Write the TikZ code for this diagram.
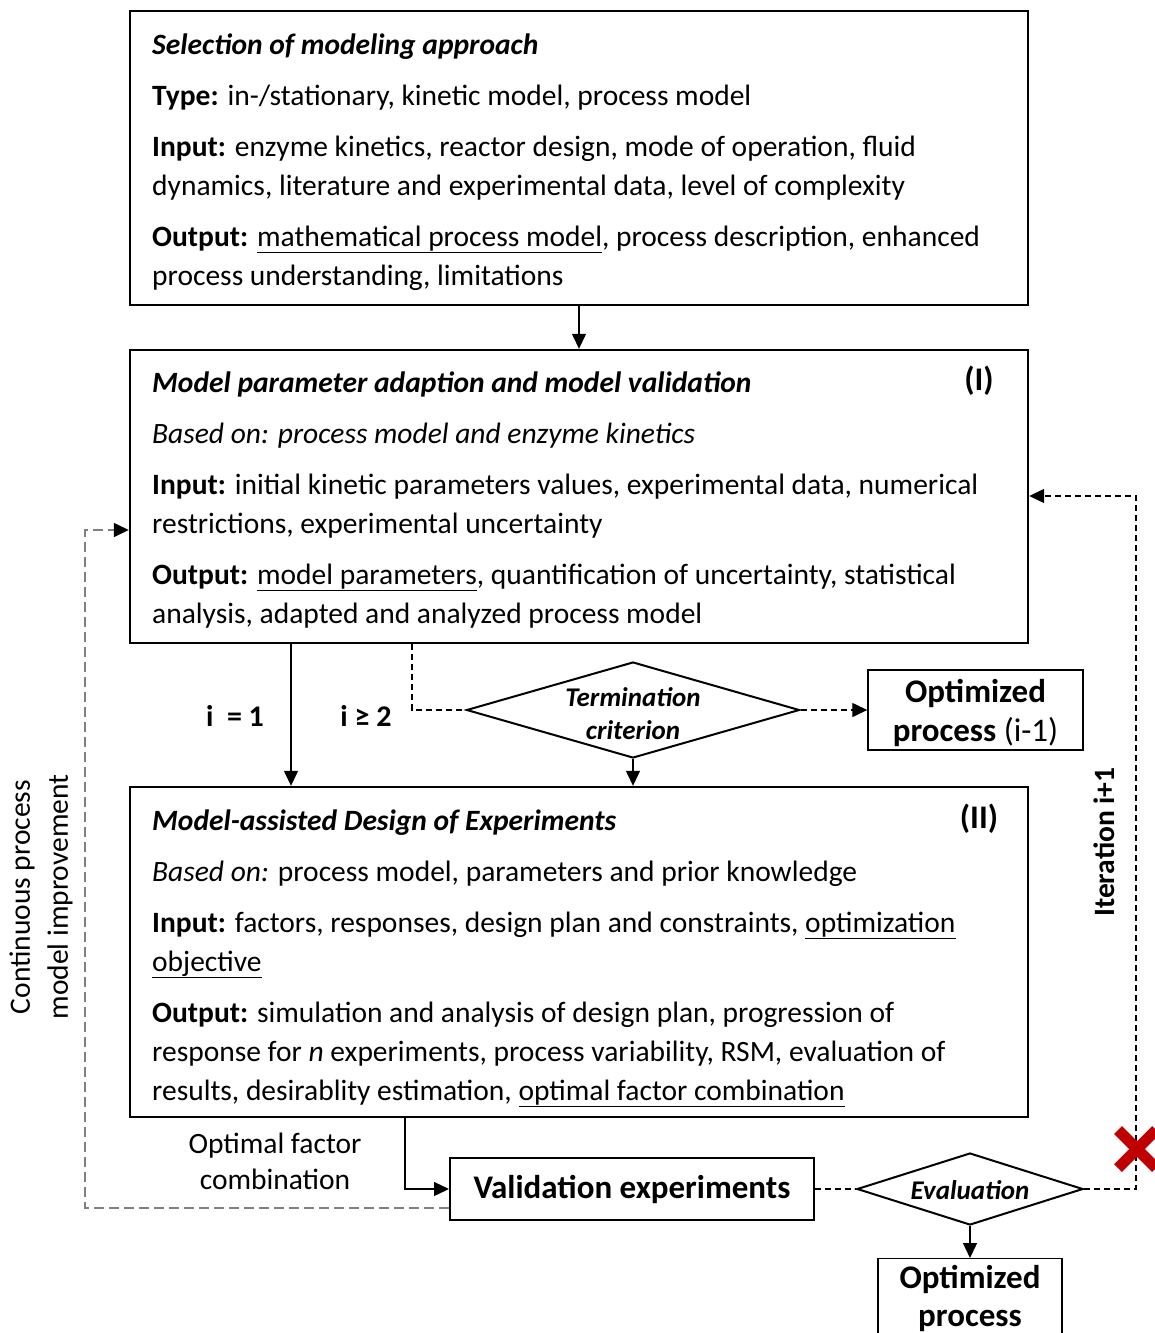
\documentclass[tikz,border=0pt]{standalone}
\usepackage{fontspec}
\setmainfont{Carlito}
\usetikzlibrary{arrows.meta,shapes.geometric,calc}

\tikzset{
  box/.style={draw, line width=2.4pt, rectangle, inner sep=0pt},
  thinbox/.style={draw, line width=1.4pt, rectangle, inner sep=0pt, align=center},
  decision/.style={draw, line width=2pt, diamond, inner sep=0pt},
  % multi-line body text is anchored at the baseline of its last line
  body/.style={anchor=base west, align=left, inner sep=0pt,
    font=\fontsize{29.5}{39}\selectfont},
  arr/.style={line width=1.3pt, -{Triangle[length=15pt,width=14pt]}},
  dline/.style={line width=1.3pt, dash pattern=on 6pt off 4pt},
  darr/.style={dline, -{Triangle[length=15pt,width=14pt]}},
  gline/.style={line width=1.5pt, draw=gray, dash pattern=on 10pt off 5pt},
  garr/.style={gline, -{Triangle[length=15pt,width=14pt,color=black]}},
  lbl/.style={inner sep=0pt, font=\fontsize{30}{36}\selectfont\bfseries},
  roman/.style={inner sep=0pt, font=\fontsize{33}{40}\selectfont\bfseries},
}

\begin{document}
\begin{tikzpicture}[x=1pt,y=-1pt]
\useasboundingbox (0,0) rectangle (1155,1333);
\clip (0,0) rectangle (1155,1333);

% main boxes
\node[box, minimum width=898pt, minimum height=294pt] (sel) at (579,158) {};
\node[box, minimum width=898pt, minimum height=293pt] (adapt) at (579,496.5) {};
\node[box, minimum width=898pt, minimum height=330pt] (doe) at (579,952) {};

% box texts
\node[body] (seltext) at (152,285) {\textbf{\textit{Selection of modeling approach}}\\[12pt]
\textbf{Type:} in-/stationary, kinetic model, process model\\[12pt]
\textbf{Input:} enzyme kinetics, reactor design, mode of operation, fluid\\
dynamics, literature and experimental data, level of complexity\\[12pt]
\textbf{Output:} \underline{mathematical process model}, process description, enhanced\\
process understanding, limitations};

\node[body] (adapttext) at (152,623) {\textbf{\textit{Model parameter adaption and model validation}}\\[12pt]
\textit{Based on: process model and enzyme kinetics}\\[12pt]
\textbf{Input:} initial kinetic parameters values, experimental data, numerical\\
restrictions, experimental uncertainty\\[12pt]
\textbf{Output:} \underline{model parameters}, quantification of uncertainty, statistical\\
analysis, adapted and analyzed process model};
\node[roman] (one) at (979,381) {(I)};

\node[body] (doetext) at (152,1100) {\textbf{\textit{Model-assisted Design of Experiments}}\\[12pt]
\textit{Based on:} process model, parameters and prior knowledge\\[12pt]
\textbf{Input:} factors, responses, design plan and constraints, \underline{optimization}\\
\underline{objective}\\[12pt]
\textbf{Output:} simulation and analysis of design plan, progression of\\
response for \textit{n} experiments, process variability, RSM, evaluation of\\
results, desirablity estimation, \underline{optimal factor combination}};
\node[roman] (two) at (979,819) {(II)};

% decisions and results
\node[decision, minimum width=333pt, minimum height=96pt] (term) at (633,710) {};
\node[inner sep=0pt, align=center, font=\fontsize{27}{33}\selectfont\bfseries\itshape] (termtext) at (633,714) {Termination\\criterion};
\node[thinbox, minimum width=215pt, minimum height=80pt] (opt1) at (975.5,710) {};
\node[inner sep=0pt, align=center, font=\fontsize{33}{39}\selectfont] (opt1text) at (975.5,713) {\textbf{Optimized}\\\textbf{process} (i-1)};

\node[box, line width=2pt, minimum width=364pt, minimum height=62pt,
  font=\fontsize{33}{40}\selectfont\bfseries] (val) at (632,1189) {Validation experiments};
\node[decision, minimum width=226pt, minimum height=72pt] (eval) at (970,1189) {};
\node[inner sep=0pt, font=\fontsize{27}{32}\selectfont\bfseries\itshape] (evaltext) at (970,1190) {Evaluation};
\node[thinbox, minimum width=184pt, minimum height=92pt, anchor=north] (opt2) at (970,1258) {};
\node[inner sep=0pt, align=center, font=\fontsize{33}{38}\selectfont\bfseries] (opt2text) at (970,1298) {Optimized\\process};

% branch labels
\node[lbl] (ieq) at (235,716) {i \ = 1};
\node[lbl] (igeq) at (366,716) {i ≥ 2};
\node[inner sep=0pt, align=center, font=\fontsize{29.5}{36}\selectfont] (ofc) at (275,1161) {Optimal factor\\combination};
\node[lbl, font=\fontsize{29.5}{34}\selectfont\bfseries, rotate=90] (iter) at (1104,842) {Iteration i+1};
\node[inner sep=0pt, align=center, rotate=90, font=\fontsize{29.5}{38}\selectfont] (cont) at (41,897) {Continuous process\\model improvement};

% helper coordinates for the routed connectors
\coordinate (xone) at (291,0);
\coordinate (xtwo) at (412,0);
\coordinate (xval) at (405,0);
\coordinate (rtop) at (1136,496);
\coordinate (lfoot) at (85,1208);
\coordinate (ltop) at (85,530);

% connectors
\draw[arr] (sel.south) -- (adapt.north);
\draw[arr] (xone |- adapt.south) -- (xone |- doe.north);
\draw[dline] (xtwo |- adapt.south) |- (term.west);
\draw[arr] (term.south) -- (term.south |- doe.north);
\draw[darr] (term.east) -- (opt1.west);
\draw[arr] (xval |- doe.south) |- (val.west);
\draw[dline] (val.east) -- (eval.west);
\draw[arr] (eval.south) -- (opt2.north);
\draw[darr] (eval.east) -| (rtop) -- (rtop -| adapt.east);
\draw[garr] (val.west |- lfoot) -- (lfoot) -- (ltop) -- (ltop -| adapt.west);

% rejection mark on the iteration loop
\coordinate (xmark) at (1137,1149);
\draw[line width=11pt, draw={rgb,255:red,192;green,0;blue,0}]
  ($(xmark)+(-19,-19)$) -- ($(xmark)+(19,19)$)
  ($(xmark)+(-19,19)$) -- ($(xmark)+(19,-19)$);
\end{tikzpicture}
\end{document}
